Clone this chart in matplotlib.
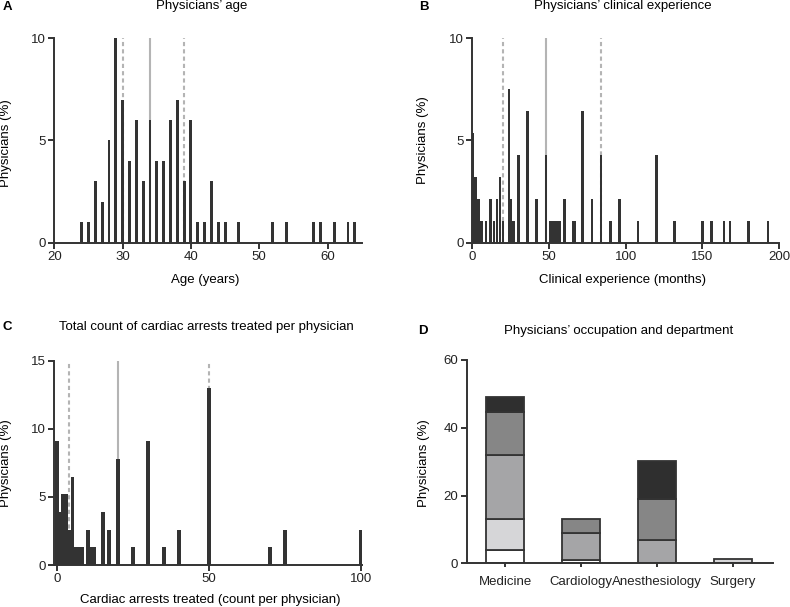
import matplotlib
matplotlib.use("Agg")
import matplotlib.pyplot as plt
import numpy as np

plt.rcParams['font.family'] = ['Liberation Sans', 'DejaVu Sans']
plt.rcParams['font.size'] = 9.5

# ---------------- data ----------------
# Panel A: physicians' age
age_years = [24, 25, 26, 27, 28, 29, 30, 31, 32, 33, 34, 35, 36, 37, 38, 39, 40,
             41, 42, 43, 44, 45, 47, 52, 54, 58, 59, 61, 63, 64]
age_pct = [1, 1, 3, 2, 5, 10, 7, 4, 6, 3, 6, 4, 4, 6, 7, 3, 6,
           1, 1, 3, 1, 1, 1, 1, 1, 1, 1, 1, 1, 1]
age_median = 34
age_quartiles = [30, 39]

# Panel B: clinical experience (months)
exp_months = [0, 1, 2, 3, 4, 5, 6, 9, 12, 14, 16, 18, 20, 24, 25, 27, 30, 36, 42, 48,
              51, 53, 55, 57, 60, 66, 67, 72, 78, 84, 90, 96, 108, 120, 132, 150,
              156, 164, 168, 180, 193]
exp_pct = [5.38, 3.23, 3.23, 2.15, 2.15, 1.08, 1.08, 1.08, 2.15, 1.08, 2.15, 3.23, 1.08,
           7.53, 2.15, 1.08, 4.30, 6.45, 2.15, 4.30, 1.08, 1.08, 1.08, 1.08, 2.15,
           1.08, 1.08, 6.45, 2.15, 4.30, 1.08, 2.15, 1.08, 4.30, 1.08, 1.08,
           1.08, 1.08, 1.08, 1.08, 1.08]
exp_median = 48
exp_quartiles = [20, 84]

# Panel C: cardiac arrests treated
arrest_count = [0, 1, 2, 3, 4, 5, 6, 7, 8, 10, 11, 12, 15, 17, 20, 25, 30, 35, 40,
                50, 70, 75, 100]
arrest_pct = [9.09, 3.90, 5.19, 5.19, 2.60, 6.49, 1.30, 1.30, 1.30, 2.60, 1.30, 1.30,
              3.90, 2.60, 7.79, 1.30, 9.09, 1.30, 2.60, 12.99, 1.30, 2.60, 2.60]
arrest_median = 20
arrest_quartiles = [4, 50]

# Panel D: occupation and department (stacked segments, %)
departments = ['Medicine', 'Cardiology', 'Anesthesiology', 'Surgery']
seg_white = [3.9, 1.0, 0.0, 0.0]
seg_light = [9.1, 0.0, 0.0, 1.2]
seg_mid = [19.0, 8.0, 7.0, 0.0]
seg_darkgray = [12.8, 4.0, 11.9, 0.0]
seg_dark = [4.4, 0.0, 11.2, 0.0]

# ---------------- style ----------------
BAR = '#333333'
REF = '#b4b4b4'
SP_LW = 1.4

W, H = 790, 607
fig = plt.figure(figsize=(W / 100, H / 100), dpi=100)


def ax_at(l, r, t, b):
    return fig.add_axes([l / W, 1 - b / H, (r - l) / W, (b - t) / H])


def style(ax):
    for s in ['top', 'right']:
        ax.spines[s].set_visible(False)
    for s in ['left', 'bottom']:
        ax.spines[s].set_linewidth(SP_LW)
        ax.spines[s].set_color('#333333')
    ax.tick_params(direction='out', length=4, width=SP_LW, color='#333333',
                   labelsize=9.5, pad=2, labelcolor='#222222')


def ftext(x, y, s, **kw):
    fig.text(x / W, 1 - y / H, s, ha='center', va='center', **kw)


def refs(ax, med, qs, top):
    ax.vlines(med, 0, top, colors=REF, linewidth=1.5, zorder=1)
    for q in qs:
        ax.vlines(q, 0, top, colors=REF, linewidth=1.5, linestyles=(0, (2, 1.5)), zorder=1)


# Panel A
axA = ax_at(54.3, 361.7, 38.3, 242.7)
style(axA)
refs(axA, age_median, age_quartiles, 10)
axA.bar(age_years, age_pct, width=0.42, color=BAR, zorder=2)
axA.set_xlim(20, 65)
axA.set_ylim(0, 10)
axA.set_xticks([20, 30, 40, 50, 60])
axA.set_yticks([0, 5, 10])
ftext(201.7, 6, "Physicians\u2019 age")
ftext(7, 6.5, "A", fontweight='bold')
ftext(205.5, 280, "Age (years)")
ftext(6, 143, "Physicians (%)", rotation=90)

# Panel B
axB = ax_at(472.3, 779, 38.3, 242.7)
style(axB)
refs(axB, exp_median, exp_quartiles, 10)
axB.bar(exp_months, exp_pct, width=1.6, color=BAR, zorder=2)
axB.set_xlim(0, 200)
axB.set_ylim(0, 10)
axB.set_xticks([0, 50, 100, 150, 200])
axB.set_yticks([0, 5, 10])
ftext(623, 6, "Physicians\u2019 clinical experience")
ftext(423.5, 6.5, "B", fontweight='bold')
ftext(622.7, 280, "Clinical experience (months)")
ftext(423, 140, "Physicians (%)", rotation=90)

# Panel C
axC = ax_at(54.3, 362.3, 360.7, 565)
style(axC)
refs(axC, arrest_median, arrest_quartiles, 15)
axC.bar(arrest_count, arrest_pct, width=1.3, color=BAR, zorder=2)
axC.set_xlim(-1, 100.4)
axC.set_ylim(0, 15)
axC.set_xticks([0, 50, 100])
axC.set_yticks([0, 5, 10, 15])
ftext(206.3, 326.7, "Total count of cardiac arrests treated per physician")
ftext(7, 327, "C", fontweight='bold')
ftext(210, 600, "Cardiac arrests treated (count per physician)")
ftext(6, 463, "Physicians (%)", rotation=90)

# Panel D
axD = ax_at(466.7, 773.3, 360, 563.3)
style(axD)
xpos = np.arange(len(departments))
bottom = np.zeros(len(departments))
for seg, col in [(seg_white, '#ffffff'), (seg_light, '#d6d6d8'), (seg_mid, '#a5a5a7'),
                 (seg_darkgray, '#868686'), (seg_dark, '#2f2f2f')]:
    seg = np.array(seg)
    mask = seg > 0
    axD.bar(xpos[mask], seg[mask], bottom=bottom[mask], width=0.5, color=col,
            edgecolor='#333333', linewidth=1.3, zorder=2)
    bottom = bottom + seg
axD.set_xlim(-0.51, 3.53)
axD.set_ylim(0, 60)
axD.set_xticks(xpos)
axD.set_xticklabels(departments)
axD.set_yticks([0, 20, 40, 60])
axD.tick_params(axis='x', length=3, pad=6)
ftext(618.3, 330.7, "Physicians\u2019 occupation and department")
ftext(423, 330.7, "D", fontweight='bold')
ftext(424, 463, "Physicians (%)", rotation=90)

fig.savefig("out.png", dpi=100)
